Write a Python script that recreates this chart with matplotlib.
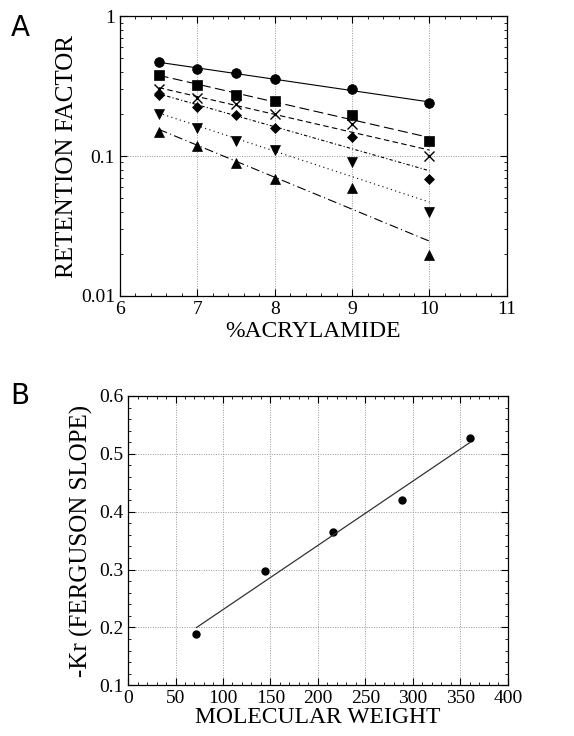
import numpy as np
import matplotlib.pyplot as plt
from matplotlib.ticker import MultipleLocator, NullFormatter

# panel A: retention factor vs % acrylamide
acryl = [6.5, 7, 7.5, 8, 9, 10]
rf_circle = [0.47, 0.42, 0.39, 0.355, 0.30, 0.24]
rf_square = [0.38, 0.32, 0.275, 0.247, 0.196, 0.129]
rf_cross = [0.30, 0.258, 0.235, 0.199, 0.169, 0.10]
rf_diamond = [0.273, 0.225, 0.195, 0.159, 0.137, 0.069]
rf_down = [0.20, 0.158, 0.129, 0.11, 0.090, 0.040]
rf_up = [0.148, 0.117, 0.089, 0.069, 0.059, 0.0196]

# panel B: ferguson slope vs molecular weight
mw = [72, 144, 216, 288, 360]
kr = [0.189, 0.297, 0.364, 0.421, 0.527]

plt.rcParams['font.family'] = ['Liberation Serif', 'DejaVu Serif']

fig = plt.figure(figsize=(5.74, 7.36), dpi=100)
ax1 = fig.add_axes([0.209, 0.598, 0.674, 0.380])
ax2 = fig.add_axes([0.223, 0.069, 0.662, 0.393])

series = [
    (rf_circle, 'o', '-'),
    (rf_square, 's', (0, (9, 4))),
    (rf_cross, 'x', (0, (5, 3))),
    (rf_diamond, 'D', (0, (3, 2, 1, 2))),
    (rf_down, 'v', (0, (1, 3))),
    (rf_up, '^', (0, (8, 3, 1, 3))),
]
x = np.array(acryl)
for vals, mk, ls in series:
    y = np.array(vals)
    k, b = np.polyfit(x, np.log10(y), 1)
    xl = np.array([x[0], x[-1]])
    ax1.plot(xl, 10 ** (k * xl + b), color='black', lw=0.8, ls=ls)
    ms = 7 if mk != 'D' else 5.5
    ax1.plot(x, y, ls='none', marker=mk, color='black', ms=ms,
             mew=1.0 if mk == 'x' else 0.5)

ax1.set_yscale('log')
ax1.set_xlim(6, 11)
ax1.set_ylim(0.01, 1)
ax1.set_yticks([0.01, 0.1, 1])
ax1.set_yticklabels(['0.01', '0.1', '1'])
ax1.yaxis.set_minor_formatter(NullFormatter())
ax1.xaxis.set_minor_locator(MultipleLocator(0.2))
ax1.grid(True, which='major', color='#999999', ls=(0, (1, 1.5)), lw=0.7)
ax1.set_xlabel('%ACRYLAMIDE', fontsize=17, labelpad=2)
ax1.set_ylabel('RETENTION FACTOR', fontsize=18, labelpad=2)

ax2.plot(mw, kr, ls='none', marker='o', color='black', ms=5)
k2, b2 = np.polyfit(mw, kr, 1)
xl2 = np.array([mw[0], mw[-1]])
ax2.plot(xl2, k2 * xl2 + b2, color='#333333', lw=0.9)
ax2.set_xlim(0, 400)
ax2.set_ylim(0.1, 0.6)
ax2.xaxis.set_major_locator(MultipleLocator(50))
ax2.xaxis.set_minor_locator(MultipleLocator(10))
ax2.yaxis.set_major_locator(MultipleLocator(0.1))
ax2.yaxis.set_minor_locator(MultipleLocator(0.02))
ax2.grid(True, which='major', color='#999999', ls=(0, (1, 1.5)), lw=0.7)
ax2.set_xlabel('MOLECULAR WEIGHT', fontsize=17, labelpad=0)
ax2.set_ylabel('-Kr (FERGUSON SLOPE)', fontsize=18, labelpad=4)

for ax in (ax1, ax2):
    ax.tick_params(which='both', direction='in', top=True, right=True,
                   labelsize=14)
    ax.tick_params(which='major', length=5)
    ax.tick_params(which='minor', length=2.5)
    for s in ax.spines.values():
        s.set_linewidth(0.9)

fig.text(0.018, 0.962, 'A', fontsize=20, family='DejaVu Sans', va='center')
fig.text(0.018, 0.462, 'B', fontsize=20, family='DejaVu Sans', va='center')

fig.savefig('out.png', dpi=100)
